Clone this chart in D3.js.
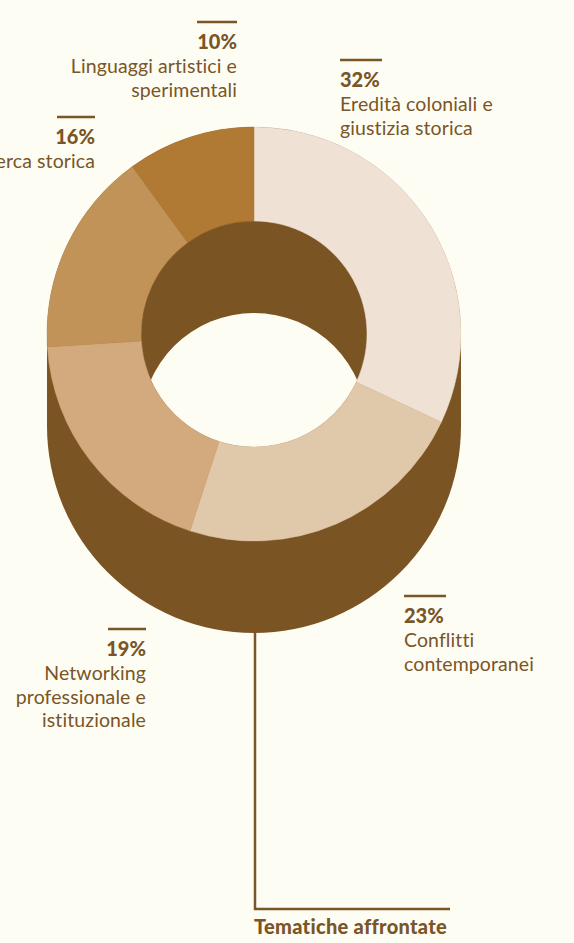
<!DOCTYPE html>
<html>
<head>
<meta charset="utf-8">
<script src="https://cdn.jsdelivr.net/npm/d3@7"></script>
<style>
  html, body { margin: 0; padding: 0; background: #fefdf4; }
  svg { display: block; }
  text { font-family: Lato, "Noto Sans", sans-serif; fill: #7a5527; }
</style>
</head>
<body>
<script>
// Themes covered, share of total (%)
const categories = [
  "Eredità coloniali e giustizia storica",
  "Conflitti contemporanei",
  "Networking professionale e istituzionale",
  "Ricerca storica",
  "Linguaggi artistici e sperimentali"
];
const values = [32, 23, 19, 16, 10];
const labelLines = [
  ["Eredità coloniali e", "giustizia storica"],
  ["Conflitti", "contemporanei"],
  ["Networking", "professionale e", "istituzionale"],
  ["Ricerca storica"],
  ["Linguaggi artistici e", "sperimentali"]
];
const title = "Tematiche affrontate";

// Styling
const palette = ["#efe1d4", "#e0c8aa", "#d3aa7e", "#c19359", "#b07a35"];
const dark = "#7b5424";
const bg = "#fefdf4";

// Label placement: rule top-left corner and text anchor side
const labelLayout = [
  { x: 340, y: 60, w: 42, anchor: "start" },
  { x: 404, y: 596, w: 42, anchor: "start" },
  { x: 108, y: 629, w: 38, anchor: "end" },
  { x: 57, y: 117, w: 38, anchor: "end" },
  { x: 197, y: 22, w: 40, anchor: "end" }
];

const W = 574, H = 943;
const cx = 254, cy = 334;
const R = 207, r = 113;
const depth = 92;

const svg = d3.select("body").append("svg")
  .attr("width", W).attr("height", H);

// Side wall of the ring: top disc, bottom disc and the band between them
const wall = svg.append("g").attr("fill", dark);
wall.append("circle").attr("cx", cx).attr("cy", cy + depth).attr("r", R);
wall.append("rect").attr("x", cx - R).attr("y", cy).attr("width", 2 * R).attr("height", depth);
wall.append("circle").attr("cx", cx).attr("cy", cy).attr("r", R);

// See-through part of the hole: overlap of top and bottom openings
const defs = svg.append("defs");
defs.append("clipPath").attr("id", "holeTop")
  .append("circle").attr("cx", cx).attr("cy", cy).attr("r", r);
svg.append("circle")
  .attr("clip-path", "url(#holeTop)")
  .attr("cx", cx).attr("cy", cy + depth).attr("r", r)
  .attr("fill", bg);

// Leader to the title
const leader = d3.path();
leader.moveTo(cx + 1, cy + depth + R - 2);
leader.lineTo(cx + 1, 909);
leader.lineTo(450, 909);
svg.append("path").attr("d", leader.toString())
  .attr("fill", "none").attr("stroke", "#7a5527").attr("stroke-width", 2.5);

// Top face of the ring
const color = d3.scaleOrdinal().domain(categories).range(palette);
const pie = d3.pie().sort(null).value(d => d.value);
const arc = d3.arc().innerRadius(r).outerRadius(R);
const data = categories.map((c, i) => ({ cat: c, value: values[i] }));

svg.append("g").attr("transform", `translate(${cx},${cy})`)
  .selectAll("path").data(pie(data)).join("path")
  .attr("d", arc)
  .attr("fill", d => color(d.data.cat))
  .attr("stroke", d => color(d.data.cat))
  .attr("stroke-width", 0.5);

// Labels
const fmt = d3.format(".0%");
data.forEach((d, i) => {
  const L = labelLayout[i];
  const g = svg.append("g");
  g.append("rect")
    .attr("x", L.x).attr("y", L.y - 1.25)
    .attr("width", L.w).attr("height", 2.5)
    .attr("fill", "#7a5527");
  const tx = L.anchor === "start" ? L.x : L.x + L.w;
  g.append("text")
    .attr("x", tx).attr("y", L.y + 27)
    .attr("text-anchor", L.anchor)
    .attr("font-size", 20).attr("font-weight", 900)
    .text(fmt(d.value / 100));
  labelLines[i].forEach((line, j) => {
    g.append("text")
      .attr("x", tx).attr("y", L.y + 51 + j * 23.5)
      .attr("text-anchor", L.anchor)
      .attr("font-size", 19.5).attr("font-weight", 400)
      .attr("letter-spacing", 0.1)
      .text(line);
  });
});

svg.append("text")
  .attr("x", cx).attr("y", 934)
  .attr("font-size", 20).attr("font-weight", 900)
  .attr("letter-spacing", 0.3)
  .text(title);
</script>
</body>
</html>
